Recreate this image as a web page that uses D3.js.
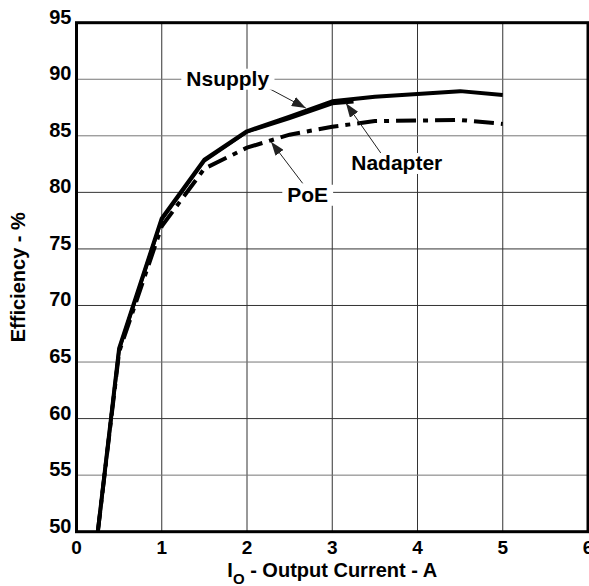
<!DOCTYPE html>
<html>
<head>
<meta charset="utf-8">
<script src="https://cdn.jsdelivr.net/npm/d3@7"></script>
<style>
  body { margin: 0; background: #fff; }
  svg text { font-family: "Liberation Sans", Arial, sans-serif; font-weight: bold; fill: #000; }
</style>
</head>
<body>
<svg id="chart" width="589" height="586"></svg>
<script>
// values
var xTicks = [0, 1, 2, 3, 4, 5, 6];
var yTicks = [50, 55, 60, 65, 70, 75, 80, 85, 90, 95];

var nsupplyX = [0.25, 0.5, 1, 1.5, 2, 2.5, 3, 3.5, 4, 4.5, 5];
var nsupplyY = [50, 66.2, 77.7, 82.9, 85.4, 86.7, 88.05, 88.45, 88.7, 88.95, 88.6];

var nadapterX = [0.25, 0.5, 1, 1.5, 2, 2.5, 3, 3.25];
var nadapterY = [50, 66.1, 77.6, 82.8, 85.35, 86.55, 87.85, 88.0];

var poeX = [0.25, 0.5, 1, 1.5, 2, 2.5, 3, 3.5, 4, 4.5, 5];
var poeY = [50, 65.9, 77.0, 82.1, 83.95, 85.1, 85.8, 86.3, 86.35, 86.4, 86.05];

// annotations: [text, textX, textY, fromX, fromY, tipX, tipY]
var labels = [
    ["Nsupply", 1.774, 89.43, 2.254, 89.2, 2.69, 87.45],
    ["Nadapter", 3.757, 81.98, 3.572, 83.45, 3.161, 87.87],
    ["PoE", 2.712, 79.17, 2.653, 80.8, 2.282, 84.48]
];

var svg = d3.select("#chart");
var margin = {left: 76.5, top: 22.7, right: 1, bottom: 54.3};
var W = 589, H = 586;

var x = d3.scaleLinear().domain([0, 6]).range([margin.left, W - margin.right]);
var y = d3.scaleLinear().domain([50, 95]).range([H - margin.bottom, margin.top]);

function zip(xs, ys) {
    return xs.map(function (v, i) { return [v, ys[i]]; });
}

// grid
var grid = svg.append("g");
grid.selectAll(".vgrid")
    .data(xTicks.slice(1, -1))
  .enter().append("line")
    .attr("x1", x).attr("x2", x)
    .attr("y1", y(50)).attr("y2", y(95))
    .attr("stroke", "#333").attr("stroke-width", 1);
grid.selectAll(".hgrid")
    .data(yTicks.slice(1, -1))
  .enter().append("line")
    .attr("x1", x(0)).attr("x2", x(6))
    .attr("y1", y).attr("y2", y)
    .attr("stroke", function (d) { return (d === 85 || d === 90 || d === 65 || d === 55) ? "#777" : "#333"; })
    .attr("stroke-width", 1);

// tick labels
svg.append("g").selectAll("text")
    .data(yTicks)
  .enter().append("text")
    .attr("x", x(0) - 5)
    .attr("y", function (d) { return y(d) + 1; })
    .attr("text-anchor", "end")
    .attr("font-size", 20)
    .text(function (d) { return d; });

svg.append("g").selectAll("text")
    .data(xTicks)
  .enter().append("text")
    .attr("x", x)
    .attr("y", y(50) + 22)
    .attr("text-anchor", "middle")
    .attr("font-size", 19)
    .text(function (d) { return d; });

// axis titles
svg.append("text")
    .attr("transform", "translate(25," + ((y(50) + y(95)) / 2) + ") rotate(-90)")
    .attr("text-anchor", "middle")
    .attr("font-size", 20)
    .text("Efficiency - %");

var xt = svg.append("text")
    .attr("x", (x(0) + x(6)) / 2)
    .attr("y", 577)
    .attr("text-anchor", "middle")
    .attr("font-size", 20);
xt.append("tspan").text("I");
xt.append("tspan").attr("dy", 7).attr("font-size", 15).text("O");
xt.append("tspan").attr("dy", -7).text(" - Output Current - A");

// curves
var line = d3.line()
    .x(function (d) { return x(d[0]); })
    .y(function (d) { return y(d[1]); });

svg.append("path")
    .datum(zip(poeX, poeY))
    .attr("d", line)
    .attr("fill", "none")
    .attr("stroke", "#000")
    .attr("stroke-width", 4)
    .attr("stroke-dasharray", "20,7,5,7");

svg.append("path")
    .datum(zip(nadapterX, nadapterY))
    .attr("d", line)
    .attr("fill", "none")
    .attr("stroke", "#000")
    .attr("stroke-width", 3.5);

svg.append("path")
    .datum(zip(nsupplyX, nsupplyY))
    .attr("d", line)
    .attr("fill", "none")
    .attr("stroke", "#000")
    .attr("stroke-width", 4)
    .attr("stroke-linejoin", "round");

// annotations
svg.append("defs").append("marker")
    .attr("id", "head")
    .attr("viewBox", "0 0 14 10")
    .attr("refX", 14).attr("refY", 5)
    .attr("markerWidth", 14).attr("markerHeight", 10)
    .attr("markerUnits", "userSpaceOnUse")
    .attr("orient", "auto")
  .append("path")
    .attr("d", "M0,0L14,5L0,10Z")
    .attr("fill", "#222");

var ann = svg.append("g").selectAll("g")
    .data(labels)
  .enter().append("g");

ann.append("line")
    .attr("x1", function (d) { return x(d[3]); })
    .attr("y1", function (d) { return y(d[4]); })
    .attr("x2", function (d) { return x(d[5]); })
    .attr("y2", function (d) { return y(d[6]); })
    .attr("stroke", "#222")
    .attr("stroke-width", 1)
    .attr("marker-end", "url(#head)");

ann.each(function (d) {
    var g = d3.select(this);
    var t = g.append("text")
        .attr("x", x(d[1]))
        .attr("y", y(d[2]))
        .attr("text-anchor", "middle")
        .attr("font-size", 21)
        .text(d[0]);
    var b = t.node().getBBox();
    g.insert("rect", "text")
        .attr("x", b.x - 5).attr("y", b.y + 2)
        .attr("width", b.width + 10).attr("height", b.height - 2)
        .attr("fill", "#fff");
});

// frame
svg.append("rect")
    .attr("x", x(0)).attr("y", y(95))
    .attr("width", x(6) - x(0)).attr("height", y(50) - y(95))
    .attr("fill", "none")
    .attr("stroke", "#000")
    .attr("stroke-width", 3);
</script>
</body>
</html>
